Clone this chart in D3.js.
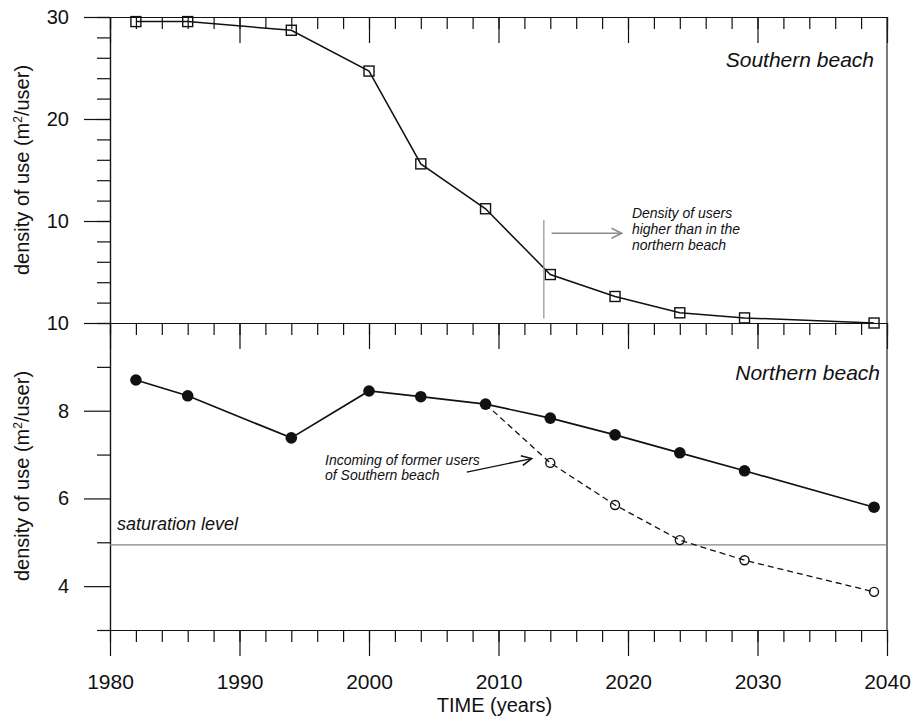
<!DOCTYPE html>
<html>
<head>
<meta charset="utf-8">
<script src="https://cdn.jsdelivr.net/npm/d3@7"></script>
<style>
    body { margin: 0; background: #fff; }
    svg { display: block; font-family: "Liberation Sans", Arial, sans-serif; }
    .axis path, .axis line { stroke: #111; stroke-width: 1.2; }
    .axis text { font-size: 20px; fill: #111; font-family: "Liberation Sans", Arial, sans-serif; }
    .axis.xlab text { font-size: 21px; }
    .note { font-style: italic; fill: #111; }
</style>
</head>
<body>
<div id="chart"></div>
<script>
// values
const years = [1982, 1986, 1994, 2000, 2004, 2009, 2014, 2019, 2024, 2029, 2039];
const southern = [29.55, 29.55, 28.7, 24.7, 15.6, 11.2, 4.75, 2.6, 1.0, 0.5, 0.0];
const northern = [8.70, 8.34, 7.38, 8.45, 8.32, 8.15, 7.83, 7.45, 7.04, 6.63, 5.80];
const incomingYears = [2009, 2014, 2019, 2024, 2029, 2039];
const incoming = [8.15, 6.81, 5.85, 5.05, 4.59, 3.87];
const saturationLevel = 4.94;

const xTicks = [1980, 1990, 2000, 2010, 2020, 2030, 2040];
const topTicks = [0, 10, 20, 30];
const topTickLabels = ["10", "10", "20", "30"];
const bottomTicks = [4, 6, 8];
const bottomTickLabels = ["4", "6", "8"];

const width = 915, height = 720;

const svg = d3.select("#chart")
    .append("svg")
    .attr("width", width)
    .attr("height", height);

const defs = svg.append("defs");
function addArrow(id, color) {
    defs.append("marker")
        .attr("id", id)
        .attr("viewBox", "0 0 12 12")
        .attr("refX", 11)
        .attr("refY", 6)
        .attr("markerWidth", 12)
        .attr("markerHeight", 12)
        .attr("markerUnits", "userSpaceOnUse")
        .attr("orient", "auto")
        .append("path")
        .attr("d", "M1,1 L11,6 L1,11")
        .attr("fill", "none")
        .attr("stroke", color)
        .attr("stroke-width", 1.6);
}
addArrow("arrowGray", "#8c8c8c");
addArrow("arrowBlack", "#111");

const x = d3.scaleLinear().domain([1980, 2040]).range([110, 887]);
const yTop = d3.scaleLinear().domain([0, 30]).range([323, 17]);
const yBot = d3.scaleLinear().domain([3, 10]).range([630, 323]);

// x axes (ticks all pointing down)
function drawXAxis(yPos, withLabels) {
    svg.append("g")
        .attr("class", "axis")
        .attr("transform", `translate(0,${yPos})`)
        .call(d3.axisBottom(x).tickValues(d3.range(1980, 2041, 2)).tickSize(12).tickSizeOuter(0).tickFormat(""));
    svg.append("g")
        .attr("class", "axis xlab")
        .attr("transform", `translate(0,${yPos})`)
        .call(d3.axisBottom(x).tickValues(xTicks).tickSize(26).tickSizeOuter(0).tickPadding(18)
            .tickFormat(withLabels ? d3.format("d") : ""));
}
drawXAxis(yTop(30), false);
drawXAxis(yTop(0), false);
drawXAxis(yBot(3), true);

// y axes
svg.append("g")
    .attr("class", "axis")
    .attr("transform", "translate(110,0)")
    .call(d3.axisLeft(yTop).tickValues(d3.range(0, 31, 2)).tickSize(13).tickSizeOuter(0).tickFormat(""));
svg.append("g")
    .attr("class", "axis")
    .attr("transform", "translate(110,0)")
    .call(d3.axisLeft(yTop).tickValues(topTicks).tickSize(26).tickSizeOuter(0).tickPadding(15)
        .tickFormat((d, i) => topTickLabels[i]));

svg.append("g")
    .attr("class", "axis")
    .attr("transform", "translate(110,0)")
    .call(d3.axisLeft(yBot).tickValues([3, 5, 7, 9]).tickSize(13).tickSizeOuter(0).tickFormat(""));
svg.append("g")
    .attr("class", "axis")
    .attr("transform", "translate(110,0)")
    .call(d3.axisLeft(yBot).tickValues(bottomTicks).tickSize(26).tickSizeOuter(0).tickPadding(15)
        .tickFormat((d, i) => bottomTickLabels[i]));

// right frame
svg.append("line")
    .attr("x1", x(2040)).attr("x2", x(2040))
    .attr("y1", yTop(30)).attr("y2", yBot(3))
    .attr("stroke", "#222")
    .attr("stroke-width", 1.2);

// axis titles
function yTitle(cy) {
    const t = svg.append("text")
        .attr("transform", `translate(29,${cy}) rotate(-90)`)
        .attr("text-anchor", "middle")
        .style("font-size", "20px")
        .attr("fill", "#111");
    t.append("tspan").text("density of use (m");
    t.append("tspan").attr("baseline-shift", "super").style("font-size", "12px").text("2");
    t.append("tspan").text("/user)");
}
yTitle(170);
yTitle(476);

svg.append("text")
    .attr("x", (x(1980) + x(2040)) / 2 - 4)
    .attr("y", 712)
    .attr("text-anchor", "middle")
    .style("font-size", "20px")
    .attr("fill", "#111")
    .text("TIME (years)");

// ---- Southern beach ----
const lineTop = d3.line()
    .x((d, i) => x(years[i]))
    .y(d => yTop(d));

svg.append("path")
    .datum(southern)
    .attr("d", lineTop)
    .attr("fill", "none")
    .attr("stroke", "#111")
    .attr("stroke-width", 1.5);

svg.append("g")
    .selectAll("rect")
    .data(southern)
    .enter()
    .append("rect")
    .attr("x", (d, i) => x(years[i]) - 5)
    .attr("y", d => yTop(d) - 5)
    .attr("width", 10)
    .attr("height", 10)
    .attr("fill", "none")
    .attr("stroke", "#111")
    .attr("stroke-width", 1.4);

svg.append("text")
    .attr("class", "note")
    .attr("x", 874)
    .attr("y", 67)
    .attr("text-anchor", "end")
    .style("font-size", "21px")
    .text("Southern beach");

// annotation: marker line + arrow
svg.append("line")
    .attr("x1", x(2013.5)).attr("x2", x(2013.5))
    .attr("y1", yTop(10.1)).attr("y2", yTop(0.45))
    .attr("stroke", "#9a9a9a")
    .attr("stroke-width", 1.3);

svg.append("line")
    .attr("x1", x(2014.1)).attr("x2", x(2019.5))
    .attr("y1", yTop(8.8)).attr("y2", yTop(8.8))
    .attr("stroke", "#8c8c8c")
    .attr("stroke-width", 1.3)
    .attr("marker-end", "url(#arrowGray)");

const note1 = svg.append("text")
    .attr("class", "note")
    .style("font-size", "14px");
["Density of users", "higher than in the", "northern beach"].forEach((s, i) => {
    note1.append("tspan")
        .attr("x", x(2020.3))
        .attr("y", 218 + i * 16)
        .text(s);
});

// ---- Northern beach ----
const lineBot = d3.line()
    .x(d => x(d[0]))
    .y(d => yBot(d[1]));

svg.append("line")
    .attr("x1", x(1980)).attr("x2", x(2040))
    .attr("y1", yBot(saturationLevel)).attr("y2", yBot(saturationLevel))
    .attr("stroke", "#858585")
    .attr("stroke-width", 1.3);

svg.append("text")
    .attr("class", "note")
    .attr("x", 117)
    .attr("y", 530)
    .style("font-size", "18px")
    .text("saturation level");

svg.append("path")
    .datum(incomingYears.map((d, i) => [d, incoming[i]]))
    .attr("d", lineBot)
    .attr("fill", "none")
    .attr("stroke", "#111")
    .attr("stroke-width", 1.3)
    .attr("stroke-dasharray", "6,4");

svg.append("g")
    .selectAll("circle")
    .data(incoming.slice(1))
    .enter()
    .append("circle")
    .attr("cx", (d, i) => x(incomingYears[i + 1]))
    .attr("cy", d => yBot(d))
    .attr("r", 4.5)
    .attr("fill", "none")
    .attr("stroke", "#111")
    .attr("stroke-width", 1.4);

svg.append("path")
    .datum(years.map((d, i) => [d, northern[i]]))
    .attr("d", lineBot)
    .attr("fill", "none")
    .attr("stroke", "#111")
    .attr("stroke-width", 1.7);

svg.append("g")
    .selectAll("circle")
    .data(northern)
    .enter()
    .append("circle")
    .attr("cx", (d, i) => x(years[i]))
    .attr("cy", d => yBot(d))
    .attr("r", 5.8)
    .attr("fill", "#111");

svg.append("text")
    .attr("class", "note")
    .attr("x", 880)
    .attr("y", 380)
    .attr("text-anchor", "end")
    .style("font-size", "21px")
    .text("Northern beach");

svg.append("line")
    .attr("x1", x(2007.55)).attr("y1", yBot(6.6))
    .attr("x2", x(2012.56)).attr("y2", yBot(6.91))
    .attr("stroke", "#111")
    .attr("stroke-width", 1.3)
    .attr("marker-end", "url(#arrowBlack)");

const note2 = svg.append("text")
    .attr("class", "note")
    .style("font-size", "14px");
["Incoming of former users", "of Southern beach"].forEach((s, i) => {
    note2.append("tspan")
        .attr("x", 325)
        .attr("y", 465 + i * 15)
        .text(s);
});
</script>
</body>
</html>
